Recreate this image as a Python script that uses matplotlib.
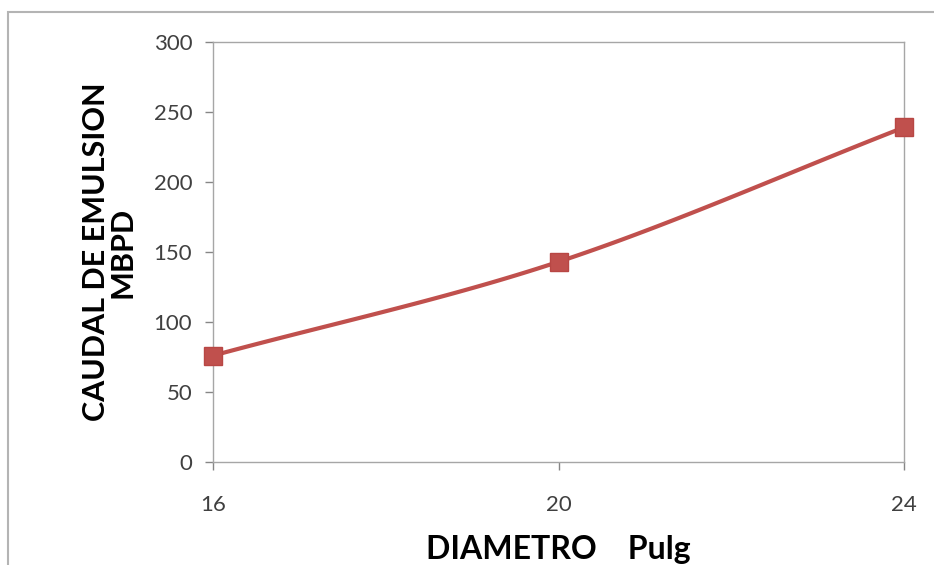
import numpy as np; import matplotlib.pyplot as plt
from matplotlib.patches import Rectangle

plt.rcParams['font.family'] = ['Lato', 'DejaVu Sans']

diametros = ['16', '20', '24']
caudal = [76, 143, 239]
yticks = [0, 50, 100, 150, 200, 250, 300]

fig = plt.figure(figsize=(9.34, 5.65), dpi=100)
ax = fig.add_axes([213/934, 103/565, 691/934, 420/565])

# marco exterior del grafico
fig.add_artist(Rectangle((8/934, -0.1), 1.2, 1.1 - 12/565, transform=fig.transFigure,
                         fill=False, edgecolor='#b4b4b4', linewidth=1.5))

##### linea suavizada tipo Excel (Catmull-Rom)
x = np.arange(len(caudal), dtype=float); y = np.array(caudal, dtype=float)
px = np.concatenate([[2*x[0]-x[1]], x, [2*x[-1]-x[-2]]])
py = np.concatenate([[2*y[0]-y[1]], y, [2*y[-1]-y[-2]]])
xs, ys = [], []
for i in range(1, len(px)-2):
    t = np.linspace(0, 1, 50)
    for p, out in ((px, xs), (py, ys)):
        p0, p1, p2, p3 = p[i-1], p[i], p[i+1], p[i+2]
        out.extend(0.5*((2*p1) + (-p0+p2)*t + (2*p0-5*p1+4*p2-p3)*t**2 + (-p0+3*p1-3*p2+p3)*t**3))
ax.plot(xs, ys, color='#C0504D', linewidth=3.0, solid_capstyle='round', clip_on=False)
ax.plot(x, y, linestyle='none', marker='s', markersize=13, markerfacecolor='#C0504D',
        markeredgecolor='#B84744', clip_on=False, zorder=3)

ax.set_xlim(0, len(caudal)-1); ax.set_ylim(0, 300)
ax.set_xticks(x); ax.set_xticklabels(diametros)
ax.set_yticks(yticks)
for s in ax.spines.values():
    s.set_color('#a6a6a6'); s.set_linewidth(1.0)
ax.tick_params(axis='both', colors='#868686', labelcolor='#404040', labelsize=16, length=6, width=1)
ax.tick_params(axis='y', pad=9); ax.tick_params(axis='x', pad=18)

ax.set_ylabel('CAUDAL DE EMULSION\nMBPD', fontsize=22, fontweight='bold', labelpad=12, linespacing=0.95)
ax.set_xlabel('DIAMETRO    Pulg', fontsize=23, fontweight='bold', labelpad=14)

fig.savefig('out.png', dpi=100)
